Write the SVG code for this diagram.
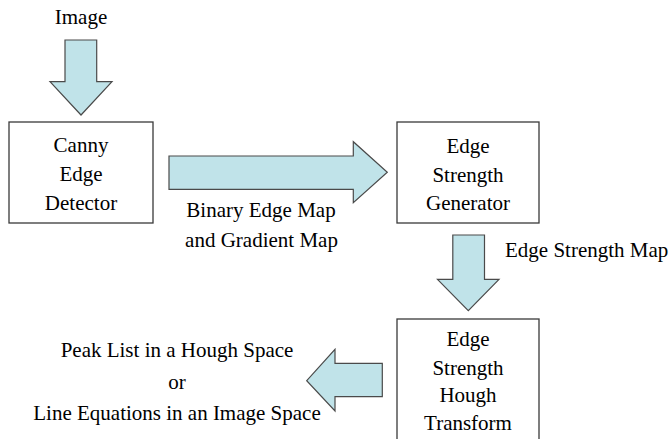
<svg xmlns="http://www.w3.org/2000/svg" width="670" height="439" viewBox="0 0 670 439">
<style>
.box{fill:#ffffff;stroke:#3a3a3a;stroke-width:1.3}
.arr{fill:#C0E3E9;stroke:#4a4a4a;stroke-width:1.2;stroke-linejoin:miter}
.t{font-family:'Liberation Serif','Times New Roman',Times,'DejaVu Serif',serif;font-size:21px;fill:#000000}
.c{text-anchor:middle}
</style>
<rect width="670" height="439" fill="#ffffff"/>
<g id="connectors">
  <g id="arrow-image">
    <polygon class="arr" points="65,40 96.7,40 96.7,81.7 112,81.7 81,115 50,81.7 65,81.7"/>
    <text class="t c" x="81" y="23.5">Image</text>
  </g>
  <g id="arrow-binary">
    <polygon class="arr" points="169,156 353.3,156 353.3,141.7 387.3,172.3 353.3,202.7 353.3,189.3 169,189.3"/>
    <text class="t c" x="261" y="216.7">Binary Edge Map</text>
    <text class="t c" x="261.5" y="246.7">and Gradient Map</text>
  </g>
  <g id="arrow-strength">
    <polygon class="arr" points="452.8,235 484.5,235 484.5,279.3 499,279.3 468.3,310.7 437.5,279.3 452.8,279.3"/>
    <text class="t" x="505" y="257.3">Edge Strength Map</text>
  </g>
  <g id="arrow-output">
    <polygon class="arr" points="382.3,363.3 382.3,396.7 335,396.7 335,411 306.7,380.7 335,349.3 335,363.3"/>
    <text class="t c" x="177" y="356.7">Peak List in a Hough Space</text>
    <text class="t c" x="177" y="389">or</text>
    <text class="t c" x="177" y="420">Line Equations in an Image Space</text>
  </g>
</g>
<g id="canny">
  <rect class="box" x="9" y="122" width="144" height="101"/>
  <text class="t c" x="81" y="152">Canny</text>
  <text class="t c" x="81" y="181">Edge</text>
  <text class="t c" x="81" y="210">Detector</text>
</g>
<g id="generator">
  <rect class="box" x="397" y="122" width="142" height="101"/>
  <text class="t c" x="468" y="152.7">Edge</text>
  <text class="t c" x="468" y="181.5">Strength</text>
  <text class="t c" x="468" y="210">Generator</text>
</g>
<g id="hough">
  <rect class="box" x="397" y="319" width="142" height="130"/>
  <text class="t c" x="468" y="345.7">Edge</text>
  <text class="t c" x="468" y="374.5">Strength</text>
  <text class="t c" x="468" y="401.7">Hough</text>
  <text class="t c" x="468" y="430">Transform</text>
</g>
</svg>
